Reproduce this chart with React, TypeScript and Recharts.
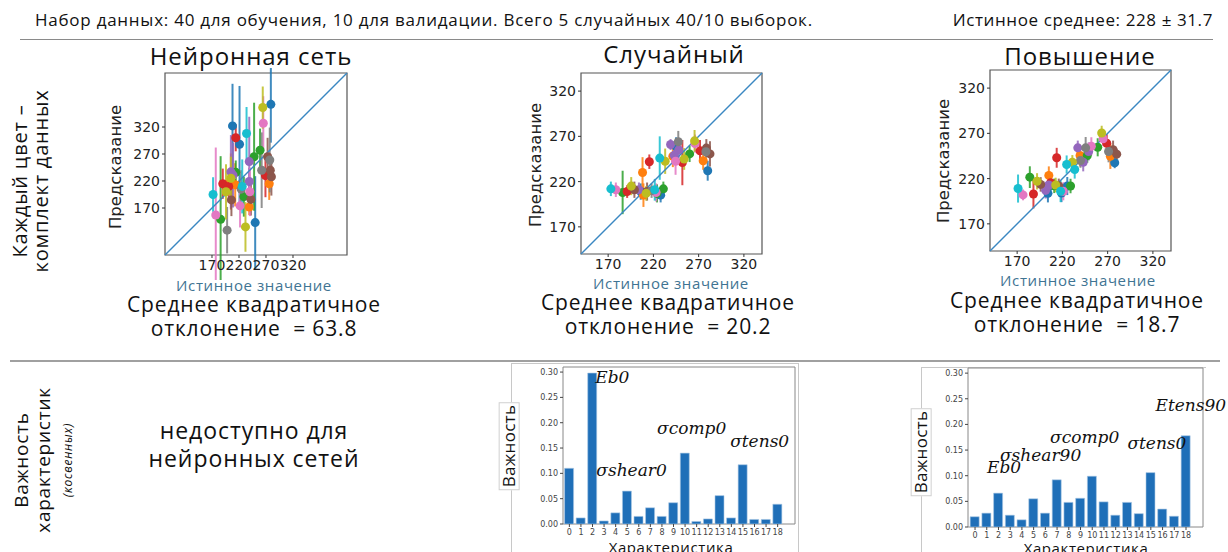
import React from 'react'
import {
  ScatterChart,
  Scatter,
  ErrorBar,
  XAxis,
  YAxis,
  ReferenceLine,
  ReferenceArea,
  ReferenceDot,
  BarChart,
  Bar,
} from 'recharts'

// tab10 palette, index by name
const TAB10: Record<string, string> = {
  blue: '#1f77b4',
  orange: '#ff7f0e',
  green: '#2ca02c',
  red: '#d62728',
  purple: '#9467bd',
  brown: '#8c564b',
  pink: '#e377c2',
  gray: '#7f7f7f',
  olive: '#bcbd22',
  cyan: '#17becf',
}

const SCATTER_TICKS = [170, 220, 270, 320]

// --- Нейронная сеть ---
const nnTrue = [172, 177, 186, 190, 198, 196, 205, 206, 205, 208, 214, 221, 214, 213, 234, 229, 239, 239, 239, 232, 250, 248, 264, 279, 265, 259, 273, 277, 269, 280, 278, 276, 222, 209, 226, 240, 205, 224, 201, 242, 262]
const nnPred = [195, 157, 149, 215, 129, 200, 219, 185, 237, 322, 300, 288, 236, 213, 308, 191, 256, 219, 172, 135, 143, 265, 356, 362, 327, 277, 265, 259, 230, 228, 240, 215, 174, 231, 210, 200, 225, 205, 210, 186, 240]
const nnErr = [32, 125, 117, 28, 43, 51, 52, 30, 68, 78, 25, 108, 22, 40, 49, 37, 83, 25, 15, 46, 86, 100, 39, 71, 50, 40, 35, 60, 40, 35, 30, 30, 40, 60, 50, 45, 40, 35, 30, 30, 70]
const nnColor = ['cyan', 'pink', 'green', 'red', 'gray', 'olive', 'orange', 'brown', 'purple', 'blue', 'red', 'blue', 'green', 'orange', 'cyan', 'green', 'purple', 'purple', 'orange', 'olive', 'blue', 'green', 'olive', 'blue', 'pink', 'green', 'brown', 'gray', 'red', 'brown', 'brown', 'orange', 'pink', 'purple', 'cyan', 'pink', 'olive', 'gray', 'red', 'brown', 'gray']

// --- Случайный (лес) ---
const rfTrue = [173, 178.5, 186, 191, 195.5, 199, 204, 208, 209, 206, 212, 215.5, 227, 221.5, 223, 228, 231, 233, 239, 241.5, 247.5, 244.5, 248, 252, 254, 260, 265.5, 271.5, 275, 278.5, 278, 280, 282.5, 245, 243, 224, 266, 213, 218]
const rfPred = [212, 211, 208, 209, 215, 211, 211, 230, 205, 209, 207, 242, 246, 211, 208, 205, 212, 242.5, 261, 248, 264, 242.5, 255, 241, 245, 250.6, 265, 254, 243, 257, 253, 232, 250.6, 259, 249, 207, 262, 209, 210]
const rfErr = [8, 8, 24, 7, 10, 9, 8, 17, 13, 9, 8, 8, 24, 12, 10, 8, 8, 14, 6, 12, 12, 15, 10, 25, 12, 9, 12, 12, 10, 10, 9, 11, 14, 10, 8, 10, 10, 10, 8]
const rfColor = ['cyan', 'pink', 'green', 'red', 'olive', 'brown', 'purple', 'orange', 'orange', 'blue', 'olive', 'red', 'cyan', 'cyan', 'pink', 'blue', 'green', 'olive', 'purple', 'orange', 'gray', 'pink', 'purple', 'red', 'olive', 'green', 'olive', 'red', 'orange', 'brown', 'gray', 'blue', 'brown', 'blue', 'purple', 'green', 'pink', 'brown', 'gray']

// --- Повышение ---
const gbTrue = [171, 176.5, 184, 188, 192, 196, 205, 207, 201.5, 204, 212.6, 213.7, 218, 225.4, 229, 224.7, 231, 233.6, 237, 239.5, 243, 245.7, 247.5, 252, 249, 259, 263.4, 265, 269, 273, 276, 280, 277.8, 271, 219, 221, 216, 240, 205, 211]
const gbPred = [209, 202, 221.6, 203, 217, 213.6, 223.5, 215.5, 207, 203.7, 213, 243, 206, 211.8, 211.8, 235.6, 238, 230, 254, 245.5, 238, 254, 245.5, 255.7, 250, 254.6, 270.4, 264, 259, 244.7, 252, 247, 237.5, 250, 204, 206, 212, 240, 213, 212]
const gbErr = [15.5, 6, 12, 16, 9, 8, 10, 8, 9, 10, 8, 11, 12, 10, 8, 10, 8, 10, 8, 12, 10, 12, 8, 10, 10, 10, 8, 8, 10, 14, 10, 6, 6, 12, 10, 10, 8, 8, 8, 8]
const gbColor = ['cyan', 'pink', 'green', 'red', 'olive', 'brown', 'orange', 'red', 'purple', 'blue', 'olive', 'red', 'cyan', 'blue', 'green', 'cyan', 'olive', 'cyan', 'purple', 'orange', 'purple', 'gray', 'green', 'pink', 'purple', 'green', 'olive', 'pink', 'red', 'orange', 'brown', 'brown', 'blue', 'gray', 'blue', 'pink', 'brown', 'gray', 'purple', 'green']

// --- Важность характеристик ---
const featureIdx = [0, 1, 2, 3, 4, 5, 6, 7, 8, 9, 10, 11, 12, 13, 14, 15, 16, 17, 18]
const rfImportance = [0.11, 0.012, 0.298, 0.006, 0.022, 0.065, 0.015, 0.032, 0.015, 0.042, 0.14, 0.005, 0.01, 0.056, 0.012, 0.117, 0.009, 0.009, 0.039]
const gbImportance = [0.02, 0.027, 0.066, 0.023, 0.014, 0.055, 0.027, 0.092, 0.048, 0.056, 0.099, 0.049, 0.023, 0.048, 0.026, 0.106, 0.035, 0.021, 0.178]
const importanceTicks = [0, 0.05, 0.1, 0.15, 0.2, 0.25, 0.3]

const rfAnnoText = ['Eb0', 'σshear0', 'σcomp0', 'σtens0']
const rfAnnoX = [2.24, 2.33, 7.58, 13.9]
const rfAnnoY = [0.29, 0.107, 0.189, 0.164]
const gbAnnoText = ['Eb0', 'σshear90', 'σcomp0', 'σtens0', 'Etens90']
const gbAnnoX = [1.02, 2.13, 6.4, 13.0, 15.4]
const gbAnnoY = [0.118, 0.141, 0.175, 0.163, 0.237]

const SLIDE_FONT = '"Open Sans", sans-serif'
const PLOT_FONT = '"DejaVu Sans", sans-serif'

function groupByColor(tv: number[], pv: number[], ev: number[], cv: string[]) {
  const groups: { color: string; points: { x: number; y: number; err: number }[] }[] = []
  Object.keys(TAB10).forEach(name => {
    const points = tv
      .map((x, i) => ({ x, y: pv[i], err: ev[i], c: cv[i] }))
      .filter(p => p.c === name)
      .map(({ x, y, err }) => ({ x, y, err }))
    if (points.length) groups.push({ color: TAB10[name], points })
  })
  return groups
}

interface PanelProps {
  left: number
  top: number
  size: number
  domain: [number, number]
  tv: number[]
  pv: number[]
  ev: number[]
  cv: string[]
}

function ScatterPanel({ left, top, size, domain, tv, pv, ev, cv }: PanelProps) {
  const groups = groupByColor(tv, pv, ev, cv)
  const tick = { fontFamily: PLOT_FONT, fontSize: 14, fill: '#222' }
  return (
    <div style={{ position: 'absolute', left: left - 40, top: top - 5 }}>
      <ScatterChart width={40 + size + 5} height={5 + size + 25} margin={{ top: 5, right: 5, bottom: 0, left: 0 }}>
        <XAxis
          type="number"
          dataKey="x"
          domain={domain}
          ticks={SCATTER_TICKS}
          interval={0}
          allowDataOverflow
          axisLine={false}
          tickSize={3}
          tickLine={{ stroke: '#333' }}
          tick={tick}
          height={25}
        />
        <YAxis
          type="number"
          dataKey="y"
          domain={domain}
          ticks={SCATTER_TICKS}
          interval={0}
          allowDataOverflow
          axisLine={false}
          tickSize={3}
          tickLine={{ stroke: '#333' }}
          tick={tick}
          width={40}
        />
        {groups.map(g => (
          <Scatter key={g.color} data={g.points} fill={g.color} shape="circle" isAnimationActive={false}>
            <ErrorBar dataKey="err" direction="y" width={0} stroke={g.color} strokeWidth={2} strokeOpacity={0.85} isAnimationActive={false} />
          </Scatter>
        ))}
        <ReferenceLine
          segment={[{ x: domain[0], y: domain[0] }, { x: domain[1], y: domain[1] }]}
          stroke="#3a87c2"
          strokeWidth={1.5}
          ifOverflow="visible"
        />
        <ReferenceArea x1={domain[0]} x2={domain[1]} y1={domain[0]} y2={domain[1]} fill="none" stroke="#555" strokeWidth={1.2} ifOverflow="visible" />
      </ScatterChart>
    </div>
  )
}

interface BarProps {
  left: number
  top: number
  width: number
  height: number
  values: number[]
  xDomain: [number, number]
  annoText: string[]
  annoX: number[]
  annoY: number[]
}

// extra room on the right so annotations past the frame are not clipped
const BAR_RIGHT = 30

function ImportancePanel({ left, top, width, height, values, xDomain, annoText, annoX, annoY }: BarProps) {
  const data = featureIdx.map((idx, i) => ({ idx, v: values[i] }))
  const tick = { fontFamily: PLOT_FONT, fontSize: 8, fill: '#444' }
  return (
    <div style={{ position: 'absolute', left: left - 28, top: top - 2 }}>
      <BarChart
        width={28 + width + BAR_RIGHT}
        height={2 + height + 16}
        data={data}
        margin={{ top: 2, right: BAR_RIGHT, bottom: 0, left: 0 }}
      >
        <XAxis
          type="number"
          dataKey="idx"
          domain={xDomain}
          ticks={featureIdx}
          interval={0}
          allowDataOverflow
          axisLine={false}
          tickSize={3}
          tickLine={{ stroke: '#444' }}
          tick={tick}
          height={16}
        />
        <YAxis
          type="number"
          domain={[0, 0.31]}
          ticks={importanceTicks}
          interval={0}
          allowDataOverflow
          axisLine={false}
          tickSize={3}
          tickLine={{ stroke: '#444' }}
          tick={tick}
          tickFormatter={(v: number) => v.toFixed(2)}
          width={28}
        />
        <Bar dataKey="v" barSize={9} fill="#1f6fb8" stroke="#a9c8e4" strokeWidth={0.6} isAnimationActive={false} />
        <ReferenceArea x1={xDomain[0]} x2={xDomain[1]} y1={0} y2={0.31} fill="none" stroke="#888" strokeWidth={1} ifOverflow="visible" />
        {annoText.map((t, i) => (
          <ReferenceDot
            key={t}
            x={annoX[i]}
            y={annoY[i]}
            r={0}
            fill="none"
            stroke="none"
            ifOverflow="visible"
            label={{
              value: t,
              position: 'right',
              offset: 0,
              style: { fontFamily: '"DejaVu Serif", serif', fontStyle: 'italic', fontSize: 17, fill: '#111' },
            }}
          />
        ))}
      </BarChart>
    </div>
  )
}

function Txt({ x, y, size, children, style }: { x: number; y: number; size: number; children: React.ReactNode; style?: React.CSSProperties }) {
  return (
    <div
      style={{
        position: 'absolute',
        left: x,
        top: y,
        transform: 'translate(-50%, -50%)',
        fontFamily: SLIDE_FONT,
        fontSize: size,
        letterSpacing: '0.04em',
        color: '#111',
        whiteSpace: 'nowrap',
        textAlign: 'center',
        ...style,
      }}
    >
      {children}
    </div>
  )
}

function VTxt({ x, y, size, children, style }: { x: number; y: number; size: number; children: React.ReactNode; style?: React.CSSProperties }) {
  return (
    <Txt x={x} y={y} size={size} style={{ transform: 'translate(-50%, -50%) rotate(-90deg)', ...style }}>
      {children}
    </Txt>
  )
}

const boxed: React.CSSProperties = { border: '1px solid #d0d0d0', padding: '0 2px', lineHeight: 1.1 }
const headStyle: React.CSSProperties = {
  position: 'absolute',
  top: 8,
  fontFamily: SLIDE_FONT,
  fontSize: 17,
  letterSpacing: '0.75px',
  color: '#111',
  whiteSpace: 'nowrap',
}

export default function App() {
  return (
    <div style={{ position: 'relative', width: 1228, height: 552, background: '#fff', overflow: 'hidden' }}>
      <style>{'body{margin:0}'}</style>

      {/* header */}
      <div style={{ ...headStyle, left: 35 }}>
        Набор данных: 40 для обучения, 10 для валидации. Всего 5 случайных 40/10 выборок.
      </div>
      <div style={{ ...headStyle, right: 15, letterSpacing: '0.6px' }}>Истинное среднее: 228 ± 31.7</div>
      <div style={{ position: 'absolute', left: 20, top: 39, width: 1193, borderTop: '1.5px solid #8a8a8a' }} />
      <div style={{ position: 'absolute', left: 10, top: 360, width: 1210, borderTop: '2px solid #a0a0a0' }} />

      {/* row labels */}
      <VTxt x={30} y={181} size={20} style={{ lineHeight: '21px' }}>
        Каждый цвет –<br />комплект данных
      </VTxt>
      <VTxt x={44} y={460} size={19} style={{ lineHeight: '22px' }}>
        Важность
        <br />
        характеристик
        <br />
        <span style={{ fontSize: 12, fontStyle: 'italic' }}>(косвенных)</span>
      </VTxt>

      {/* titles */}
      <Txt x={251} y={55} size={24}>Нейронная сеть</Txt>
      <Txt x={674} y={53} size={24}>Случайный</Txt>
      <Txt x={1080} y={55} size={24}>Повышение</Txt>

      {/* scatter panels */}
      <ScatterPanel left={165} top={73} size={182} domain={[83, 420]} tv={nnTrue} pv={nnPred} ev={nnErr} cv={nnColor} />
      <ScatterPanel left={581} top={73} size={181} domain={[140, 340]} tv={rfTrue} pv={rfPred} ev={rfErr} cv={rfColor} />
      <ScatterPanel left={990} top={70} size={181} domain={[140, 340]} tv={gbTrue} pv={gbPred} ev={gbErr} cv={gbColor} />

      <VTxt x={115} y={167} size={16.5} style={{ fontFamily: PLOT_FONT, color: '#222', letterSpacing: 0 }}>Предсказание</VTxt>
      <VTxt x={535} y={165} size={16.5} style={{ fontFamily: PLOT_FONT, color: '#222', letterSpacing: 0 }}>Предсказание</VTxt>
      <VTxt x={943} y={161} size={16.5} style={{ fontFamily: PLOT_FONT, color: '#222', letterSpacing: 0 }}>Предсказание</VTxt>

      <Txt x={254} y={285} size={15} style={{ color: '#3f7493' }}>Истинное значение</Txt>
      <Txt x={671} y={283} size={15} style={{ color: '#3f7493' }}>Истинное значение</Txt>
      <Txt x={1078} y={280} size={15} style={{ color: '#3f7493' }}>Истинное значение</Txt>

      <Txt x={254} y={316} size={21} style={{ lineHeight: '24px' }}>
        Среднее квадратичное
        <br />
        отклонение&nbsp; = 63.8
      </Txt>
      <Txt x={668} y={314} size={21} style={{ lineHeight: '24px' }}>
        Среднее квадратичное
        <br />
        отклонение&nbsp; = 20.2
      </Txt>
      <Txt x={1077} y={312} size={21} style={{ lineHeight: '24px' }}>
        Среднее квадратичное
        <br />
        отклонение&nbsp; = 18.7
      </Txt>

      {/* importance row */}
      <Txt x={254} y={444} size={23} style={{ lineHeight: '28px' }}>
        недоступно для
        <br />
        нейронных сетей
      </Txt>

      <div style={{ position: 'absolute', left: 511, top: 363, width: 286, height: 200, borderTop: '1px solid #c8c8c8', borderLeft: '1px solid #c8c8c8', borderRight: '1px solid #c8c8c8' }} />
      <div style={{ position: 'absolute', left: 921, top: 367, width: 284, height: 200, borderTop: '1px solid #c8c8c8', borderLeft: '1px solid #c8c8c8' }} />

      <ImportancePanel left={563} top={367} width={232} height={157} values={rfImportance} xDomain={[-0.55, 19.5]} annoText={rfAnnoText} annoX={rfAnnoX} annoY={rfAnnoY} />
      <ImportancePanel left={968} top={368} width={235} height={159} values={gbImportance} xDomain={[-0.6, 19.45]} annoText={gbAnnoText} annoX={gbAnnoX} annoY={gbAnnoY} />

      <VTxt x={509} y={446} size={17} style={{ ...boxed, background: '#fff', letterSpacing: 0.3 }}>Важность</VTxt>
      <VTxt x={921} y={452} size={17} style={{ ...boxed, background: '#fff', letterSpacing: 0.3 }}>Важность</VTxt>
      <Txt x={671} y={547} size={15} style={{ lineHeight: '15px' }}>Характеристика</Txt>
      <Txt x={1086} y={548} size={15} style={{ lineHeight: '15px' }}>Характеристика</Txt>
    </div>
  )
}
